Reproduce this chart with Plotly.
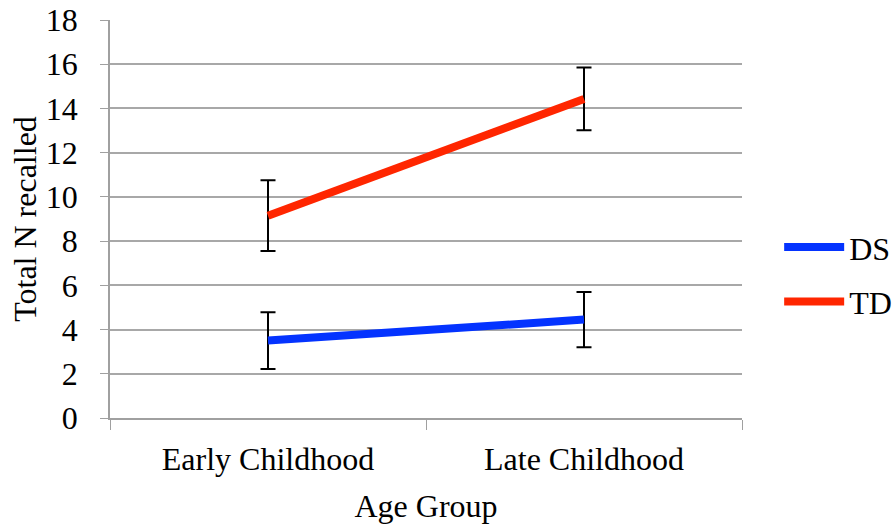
import plotly.graph_objects as go

categories = ["Early Childhood", "Late Childhood"]
ds_values = [3.5, 4.45]
ds_err = [1.28, 1.25]
td_values = [9.15, 14.43]
td_err = [1.6, 1.42]
y_ticks = [0, 2, 4, 6, 8, 10, 12, 14, 16, 18]

font_family = "Liberation Serif, Times New Roman, serif"
FS = 32

fig = go.Figure()
fig.add_trace(go.Scatter(
    x=categories, y=ds_values, mode="lines", name="DS", legendgroup="ds",
    line=dict(color="#0433FF", width=8),
    error_y=dict(type="data", array=ds_err, visible=True, color="black", thickness=2, width=7.5),
))
fig.add_trace(go.Scatter(
    x=categories, y=td_values, mode="lines", name="TD", legendgroup="td",
    line=dict(color="#FF2600", width=8),
    error_y=dict(type="data", array=td_err, visible=True, color="black", thickness=2, width=7.5),
))

fig.update_layout(
    width=892, height=527,
    margin=dict(l=110, r=150, t=20, b=109),
    paper_bgcolor="white", plot_bgcolor="white",
    font=dict(family=font_family, size=FS, color="black"),
    showlegend=True,
    legend=dict(xref="container", x=0.8735, y=0.36, xanchor="left", yanchor="middle",
                font=dict(size=FS, family=font_family),
                tracegroupgap=10, itemwidth=60, bgcolor="rgba(0,0,0,0)"),
    xaxis=dict(
        type="category", range=[-0.5, 1.5], automargin=False,
        showline=True, linecolor="#A0A0A0", linewidth=1.5,
        ticks="outside", tickson="boundaries", ticklen=10, tickcolor="#A0A0A0",
        ticklabelstandoff=12,
        showgrid=False,
        title=dict(text="Age Group", font=dict(size=FS), standoff=18),
        tickfont=dict(size=FS),
    ),
    yaxis=dict(
        range=[0, 18], tickvals=y_ticks, automargin=False,
        showline=True, linecolor="#A0A0A0", linewidth=1.5,
        ticks="outside", ticklen=8, tickcolor="#A0A0A0",
        ticklabelstandoff=16,
        showgrid=True, gridcolor="#A8A8A8", gridwidth=1.5,
        zeroline=False,
        title=dict(text="Total N recalled", font=dict(size=FS), standoff=0),
        tickfont=dict(size=FS),
    ),
)

fig.write_html("out.html", config={"displayModeBar": False},
               post_script="document.body.style.margin='0';")
